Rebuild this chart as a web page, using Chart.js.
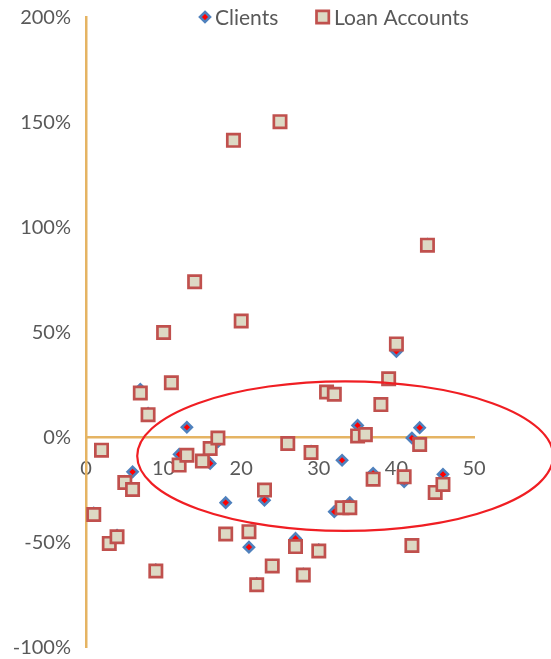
<!DOCTYPE html>
<html>
<head>
<meta charset="utf-8">
<script src="https://cdn.jsdelivr.net/npm/chart.js@4.4.1/dist/chart.umd.min.js"></script>
<style>html,body{margin:0;padding:0;background:#fff;}canvas{display:block;}</style>
</head>
<body>
<canvas id="c" width="551" height="659"></canvas>
<script>
// ---- data ----
const xValues = [1,2,3,4,5,6,7,8,9,10,11,12,13,14,15,16,17,18,19,20,21,22,23,24,25,26,27,28,29,30,31,32,33,34,35,36,37,38,39,40,41,42,43,44,45,46];
const clients = [-36,-6,-50,-46.5,-21,-16.3,23,11.5,-63,50,26,-8,4.9,74,-11,-12.3,-2,-31,141.5,55.5,-52.2,-69.5,-29.8,-61,150.4,-2.5,-48,-65,-6.5,-53.5,21.7,-35.3,-10.8,-31,5.8,1.4,-17,15.7,28,41,-21,-0.2,4.7,92,-26,-17.5];
const loanAccounts = [-36.6,-6,-50.4,-47.2,-21.4,-24.7,21.2,10.9,-63.5,50,26.1,-13.1,-8.4,74.2,-11.2,-5.2,-0.2,-45.9,141.5,55.5,-44.8,-70.1,-25,-61.1,150.4,-2.8,-51.9,-65.4,-7.1,-54,21.7,20.6,-33.4,-33.4,0.8,1.4,-19.8,15.7,28,44.6,-18.7,-51.4,-3.3,91.6,-26.1,-22.3];
const seriesNames = ['Clients', 'Loan Accounts'];
const xTicks = {min: 0, max: 50, step: 10};
const yTicks = {min: -100, max: 200, step: 50};
// highlighted region (annotation ellipse), in data units
const ellipse = {cx: 33.4, cy: -8.8, rx: 26.8, ry: 35.6};

const FONT = 'Lato, "Open Sans", sans-serif';
const TXT = '#595959';
const AXIS = '#E5B463';

function pts(ys){ return xValues.map((x,i)=>({x:x, y:ys[i]})); }

function drawMarker(ctx, style, x, y, r, fill, stroke, bw){
  ctx.save();
  ctx.beginPath();
  if (style === 'rectRot'){
    ctx.moveTo(x, y - r); ctx.lineTo(x + r, y); ctx.lineTo(x, y + r); ctx.lineTo(x - r, y);
  } else {
    const s = Math.SQRT1_2 * r;
    ctx.rect(x - s, y - s, 2*s, 2*s);
  }
  ctx.closePath();
  ctx.fillStyle = fill; ctx.fill();
  ctx.lineWidth = bw; ctx.strokeStyle = stroke; ctx.stroke();
  ctx.restore();
}

const customLegend = {
  id: 'customLegend',
  afterDraw(chart){
    const ctx = chart.ctx;
    ctx.save();
    ctx.font = '21px ' + FONT;
    ctx.fillStyle = TXT;
    ctx.textBaseline = 'middle';
    let x = 199;
    const y = 17;
    chart.data.datasets.forEach((ds, i) => {
      const r = ds.pointRadius;
      const half = ds.pointStyle === 'rectRot' ? r + 1 : Math.SQRT1_2 * r + 1.2;
      drawMarker(ctx, ds.pointStyle, x + half, y, r, ds.pointBackgroundColor, ds.pointBorderColor, ds.pointBorderWidth);
      x += 2*half + 4;
      ctx.fillStyle = TXT;
      ctx.fillText(ds.label, x, y + 1);
      x += ctx.measureText(ds.label).width + 37;
    });
    ctx.restore();
  }
};

const ellipsePlugin = {
  id: 'ellipse',
  afterDatasetsDraw(chart){
    const xs = chart.scales.x, ys = chart.scales.y, ctx = chart.ctx;
    const cx = xs.getPixelForValue(ellipse.cx), cy = ys.getPixelForValue(ellipse.cy);
    const rx = xs.getPixelForValue(ellipse.cx + ellipse.rx) - cx;
    const ry = cy - ys.getPixelForValue(ellipse.cy + ellipse.ry);
    ctx.save();
    ctx.beginPath();
    ctx.ellipse(cx, cy, rx, ry, 0, 0, Math.PI*2);
    ctx.strokeStyle = '#F01E23';
    ctx.lineWidth = 2.2;
    ctx.stroke();
    ctx.restore();
  }
};

new Chart(document.getElementById('c'), {
  type: 'scatter',
  data: {
    datasets: [
      {label: seriesNames[0], data: pts(clients), pointStyle: 'rectRot', pointRadius: 5, pointHoverRadius: 5,
       pointBackgroundColor: '#FF0000', pointBorderColor: '#4F81BD', pointBorderWidth: 2.6, order: 2},
      {label: seriesNames[1], data: pts(loanAccounts), pointStyle: 'rect', pointRadius: 8.7, pointHoverRadius: 8.7,
       pointBackgroundColor: '#DDD9C4', pointBorderColor: '#C0504D', pointBorderWidth: 2.7, order: 1}
    ]
  },
  options: {
    responsive: false,
    animation: false,
    layout: {padding: {top: 17.5, right: 77, bottom: 9, left: 0}},
    plugins: {legend: {display: false}, tooltip: {enabled: false}},
    scales: {
      x: {
        type: 'linear', min: xTicks.min, max: xTicks.max, position: {y: 0},
        afterFit: s => { s.height = 0; s.paddingTop = 0; s.paddingBottom = 0; },
        ticks: {stepSize: xTicks.step, color: TXT, font: {family: FONT, size: 20}, padding: 19},
        grid: {display: false, drawTicks: false},
        border: {display: true, color: AXIS, width: 2.5}
      },
      y: {
        type: 'linear', min: yTicks.min, max: yTicks.max,
        afterFit: s => { s.width = 86; s.paddingTop = 0; s.paddingBottom = 0; },
        ticks: {stepSize: yTicks.step, color: TXT, font: {family: FONT, size: 20}, padding: 15,
                callback: v => v + '%'},
        grid: {display: false, drawTicks: false},
        border: {display: true, color: AXIS, width: 2.5}
      }
    }
  },
  plugins: [ellipsePlugin, customLegend]
});
</script>
</body>
</html>
